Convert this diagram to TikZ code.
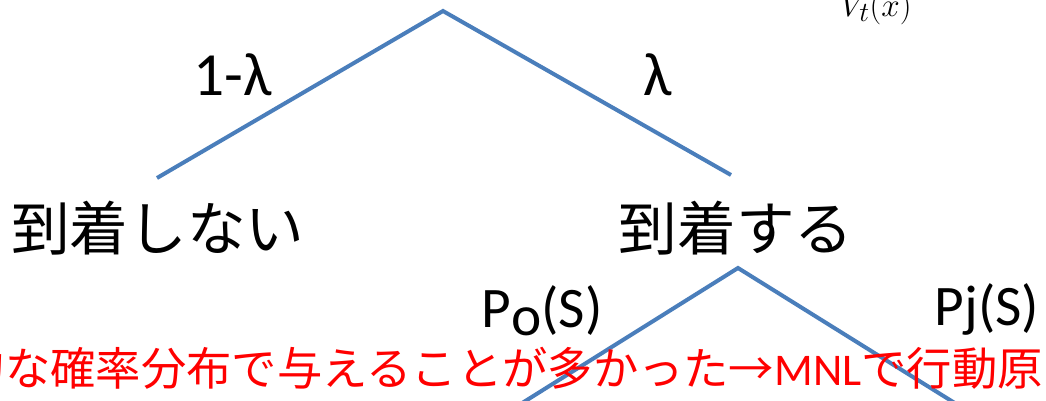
\documentclass[tikz,border=0pt]{standalone}
\usepackage{fontspec}
\setmainfont{Carlito}
\newfontfamily\cjk{Noto Sans CJK JP}
\definecolor{edgeblue}{RGB}{74,126,187}
\definecolor{redtxt}{RGB}{255,0,0}
\begin{document}
\begin{tikzpicture}[x=0.75pt,y=-0.75pt,
  edge/.style={draw=edgeblue,line width=3pt},
  prob/.style={inner sep=0pt,anchor=base,font=\fontsize{46}{52}\selectfont},
  probs/.style={inner sep=0pt,anchor=base,font=\fontsize{43}{50}\selectfont},
  state/.style={inner sep=0pt,font=\cjk\fontsize{44}{50}\selectfont},
  note/.style={inner sep=0pt,text=redtxt,font=\cjk\fontsize{34}{40}\selectfont}]
\useasboundingbox (0,0) rectangle (1046,400);
\clip (0,0) rectangle (1046,400);
\coordinate (a) at (443,11);
\coordinate (l1) at (157,178);
\coordinate (r1) at (731,175);
\coordinate (b) at (738,268);
\coordinate (l2) at (495,420);
\coordinate (r2) at (982,420);
\draw[edge] (l1) -- (a) -- (r1);
\draw[edge] (l2) -- (b) -- (r2);
\node[prob] (p1) at (233,95) {1-λ};
\node[prob] (p2) at (658,95) {λ};
\node[state] (s1) at (158,228) {到着しない};
\node[state] (s2) at (736,228) {到着する};
\node[probs] (p3) at (542,327) {P\raisebox{-0.3ex}{o}(S)};
\node[probs] (p4) at (987,325) {Pj(S)};
\node[note,anchor=east] (n) at (1043,368) {的な確率分布で与えることが多かった→{\fontspec{Carlito}MNL}で行動原};
\node[inner sep=0pt,anchor=base,font=\fontsize{30}{34}\selectfont] (v) at (876,16) {$V_t(x)$};
\end{tikzpicture}
\end{document}
